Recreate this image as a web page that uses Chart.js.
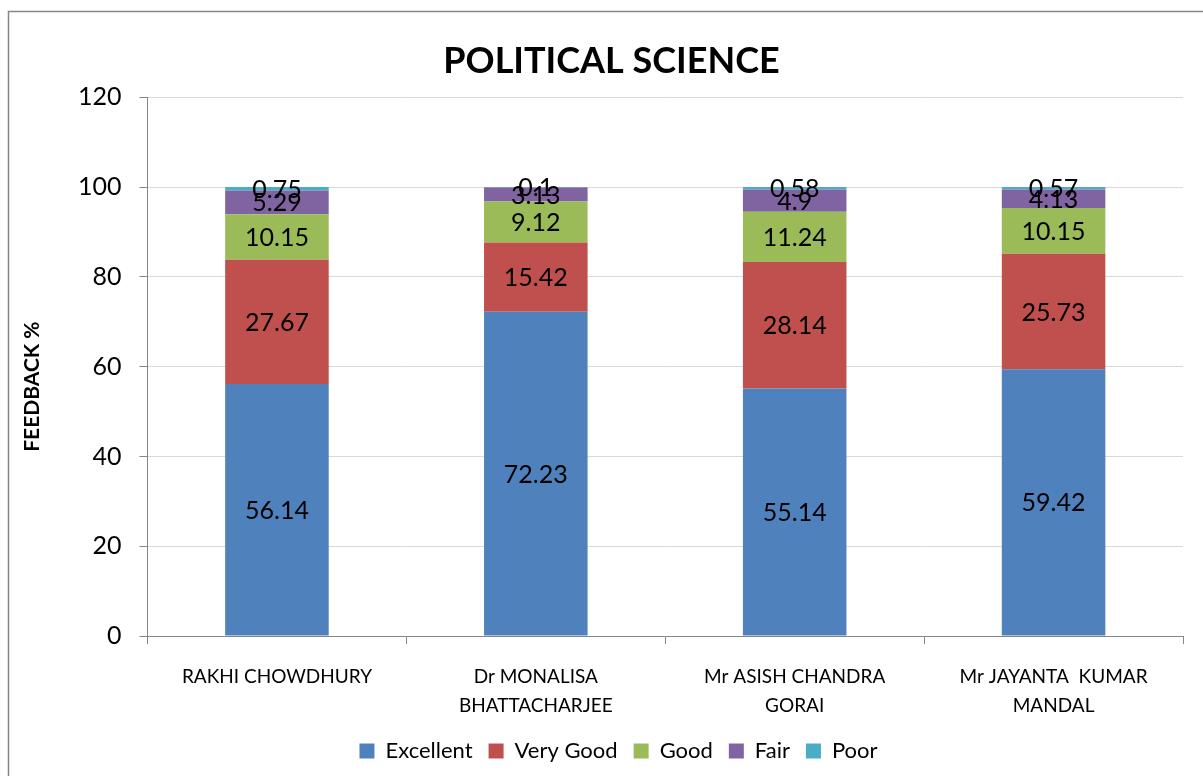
<!DOCTYPE html>
<html>
<head>
<meta charset="utf-8">
<script src="https://cdn.jsdelivr.net/npm/chart.js@4"></script>
<style>
  html, body { margin: 0; padding: 0; background: #fff; }
  #wrap { width: 1203px; height: 776px; }
</style>
</head>
<body>
<div id="wrap"><canvas id="myChart" width="1203" height="776"></canvas></div>
<script>
const teachers = [
  ["RAKHI CHOWDHURY"],
  ["Dr MONALISA", "BHATTACHARJEE"],
  ["Mr ASISH CHANDRA", "GORAI"],
  ["Mr JAYANTA  KUMAR", "MANDAL"]
];
const excellent = [56.14, 72.23, 55.14, 59.42];
const veryGood = [27.67, 15.42, 28.14, 25.73];
const good = [10.15, 9.12, 11.24, 10.15];
const fair = [5.29, 3.13, 4.9, 4.13];
const poor = [0.75, 0.1, 0.58, 0.57];
const yTitle = 'FEEDBACK %';

const labelFont = "Lato, 'Open Sans', sans-serif";

// white page plus the grey frame round the whole chart
const framePlugin = {
  id: 'frame',
  beforeDraw(chart) {
    const c = chart.ctx;
    c.save();
    c.fillStyle = '#fff';
    c.fillRect(0, 0, chart.width, chart.height);
    c.strokeStyle = '#868686';
    c.lineWidth = 1.5;
    c.strokeRect(8.5, 11.5, chart.width + 20, chart.height + 20);
    c.restore();
  },
  // excel puts title and legend a little right of the middle
  afterLayout(chart) {
    chart.titleBlock.left += 26;
    chart.legend.left += 40;
  }
};

// value written in the middle of every segment + the axis title
const valuePlugin = {
  id: 'values',
  afterDatasetsDraw(chart) {
    const c = chart.ctx;
    c.save();
    c.font = '25px ' + labelFont;
    c.fillStyle = '#000';
    c.textAlign = 'center';
    c.textBaseline = 'middle';
    chart.data.datasets.forEach((ds, i) => {
      chart.getDatasetMeta(i).data.forEach((bar, j) => {
        const p = bar.getProps(['x', 'y', 'base'], true);
        c.fillText(String(ds.data[j]), p.x, (p.y + p.base) / 2 + 1);
      });
    });
    // y title sits lower than the plot centre in the original
    const area = chart.chartArea;
    c.translate(chart.scales.y.left + 18, (area.top + area.bottom) / 2 + 20);
    c.rotate(-Math.PI / 2);
    c.font = 'bold 21px ' + labelFont;
    c.fillText(yTitle, 0, 0);
    c.restore();
  }
};

const ctx = document.getElementById('myChart');

new Chart(ctx, {
  type: 'bar',
  data: {
    labels: teachers,
    datasets: [
      { label: 'Excellent', data: excellent, backgroundColor: '#4F81BD' },
      { label: 'Very Good', data: veryGood, backgroundColor: '#C0504D' },
      { label: 'Good', data: good, backgroundColor: '#9BBB59' },
      { label: 'Fair', data: fair, backgroundColor: '#8064A2' },
      { label: 'Poor', data: poor, backgroundColor: '#4BACC6' }
    ]
  },
  options: {
    responsive: false,
    animation: false,
    barPercentage: 0.4,
    categoryPercentage: 1,
    layout: { padding: { top: 10, right: 20, bottom: 4, left: 14 } },
    plugins: {
      title: {
        display: true,
        text: 'POLITICAL SCIENCE',
        color: '#000',
        font: { family: labelFont, size: 36, weight: 'bold' },
        padding: { top: 30, bottom: 14 }
      },
      legend: {
        position: 'bottom',
        labels: {
          color: '#000',
          font: { family: labelFont, size: 22 },
          boxWidth: 15,
          boxHeight: 15,
          padding: 16
        }
      },
      tooltip: { enabled: false }
    },
    scales: {
      x: {
        stacked: true,
        grid: { drawOnChartArea: false, tickLength: 8, tickColor: '#868686' },
        border: { color: '#868686' },
        ticks: {
          color: '#000',
          font: { family: labelFont, size: 19, lineHeight: 1.55 },
          padding: 18,
          maxRotation: 0
        },
        // labels may hang into the empty space above the legend
        afterFit(scale) { scale.height -= 15; }
      },
      y: {
        stacked: true,
        min: 0,
        max: 120,
        ticks: {
          stepSize: 20,
          color: '#000',
          font: { family: labelFont, size: 25 },
          padding: 18
        },
        grid: { color: '#d9d9d9', tickLength: 8, tickColor: '#868686' },
        border: { color: '#868686' },
        afterFit(scale) { scale.width += 46; }
      }
    }
  },
  plugins: [framePlugin, valuePlugin]
});
</script>
</body>
</html>
